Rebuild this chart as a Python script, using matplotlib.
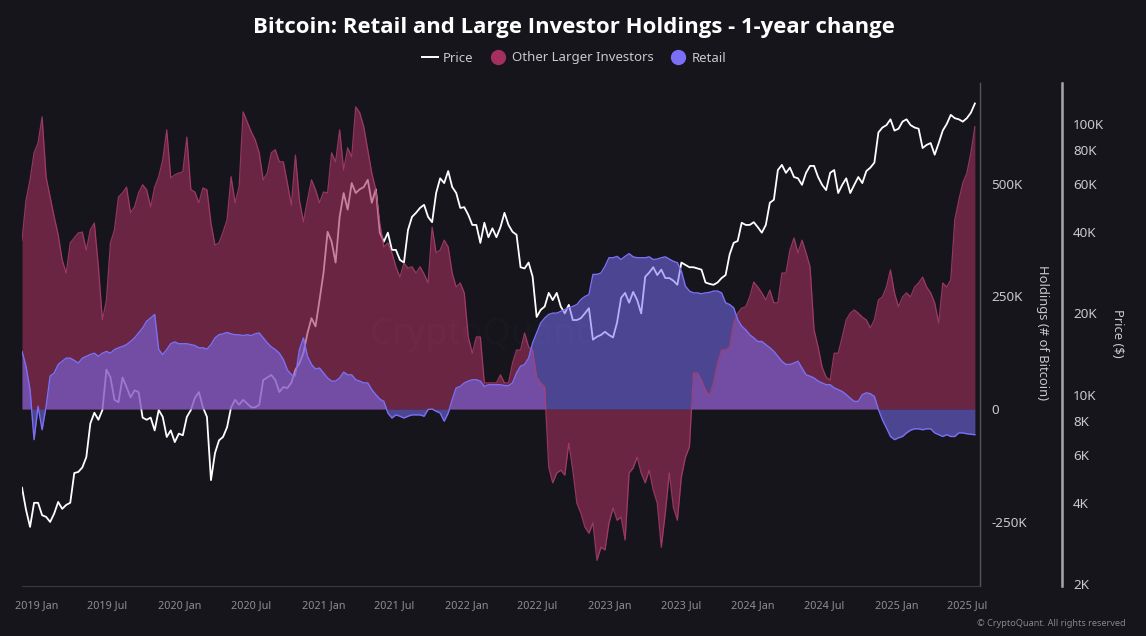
# -*- coding: utf-8 -*-
import pandas as pd
import matplotlib.pyplot as plt
from matplotlib.lines import Line2D

# values, one every ~10 days (thousands of BTC / thousands of USD)
other = [375,464,509,569,591,649,515,471,427,387,331,302,369,380,391,393,353,398,413,316,
         198,242,369,398,471,480,493,436,449,480,498,487,449,493,516,553,620,513,520,524,
         527,604,487,482,458,491,487,413,364,369,393,420,516,458,493,660,638,616,598,569,
         509,524,569,576,549,549,502,453,564,464,416,464,509,487,458,482,480,569,549,620,
         531,580,560,671,658,627,576,524,487,413,360,369,347,316,293,
         324,313,316,302,316,300,280,404,347,353,375,360,302,271,280,258,160,124,160,160,
         58,58,58,58,76,58,58,102,131,131,169,138,131,71,58,49,
         -129,-164,-142,-136,-147,-76,-136,-209,-231,-262,-276,-253,-336,-307,-313,-253,-220,-247,-240,-291,
         -142,-131,-107,-142,-164,-136,-180,-209,-307,-231,-142,-218,-247,-151,-107,-84,
         80,80,64,42,30,58,102,131,131,138,191,213,
         224,227,249,282,271,258,242,264,236,236,302,302,353,380,347,375,347,316,176,138,
         93,71,64,124,124,160,198,213,220,213,204,198,180,198,242,249,271,309,258,227,
         249,258,249,271,280,293,271,258,236,191,280,271,287,420,464,502,524,569,627]
retail = [128,95,43,-68,6,-46,6,73,80,99,106,113,113,108,102,113,117,121,124,117,
          124,128,124,132,136,139,143,150,158,169,180,195,202,210,132,121,132,145,149,145,
          145,145,143,141,136,136,133,143,158,165,167,170,167,165,165,163,165,163,167,169,
          158,147,138,132,124,110,87,76,73,132,158,117,99,89,91,80,69,62,62,69,
          82,76,76,65,62,58,58,43,32,22,17,-9,-20,-13,-16,
          -20,-16,-13,-13,-13,-16,-1,0,-5,-9,-27,-9,21,47,50,58,62,65,65,62,
          50,54,54,54,54,52,52,58,80,95,99,113,147,169,191,202,
          210,213,213,217,221,225,228,232,243,250,254,299,299,302,317,336,336,339,332,339,
          345,338,336,336,336,338,332,333,336,338,333,328,325,306,273,262,
          258,258,256,258,259,262,262,258,236,232,225,199,
          184,176,165,158,150,150,143,136,128,117,106,99,99,102,106,91,76,73,69,62,
          58,54,54,47,43,39,32,24,17,17,32,36,34,28,-1,-24,-42,-61,-68,-64,
          -61,-53,-47,-44,-44,-46,-44,-44,-53,-57,-61,-57,-61,-61,-53,-53,-55,-56,-57]
price = [4.55,3.77,3.26,4.0,4.0,3.6,3.55,3.4,3.65,4.03,3.8,3.93,4.0,5.15,5.2,5.4,5.9,7.85,8.6,8.1,
         8.8,12.4,11.6,9.6,9.4,11.6,10.7,9.8,10.4,10.25,8.25,8.1,8.25,7.4,8.8,8.3,7.0,7.4,6.7,7.2,
         7.1,8.3,8.8,9.75,10.25,9.0,8.3,4.85,6.1,6.8,7.0,7.6,9.0,9.6,9.2,9.6,9.3,9.0,9.0,9.2,
         11.35,11.6,11.85,11.35,10.25,10.7,10.6,11.1,12.4,13.1,14.3,16.9,19.2,17.9,22.4,28.3,40,36.8,30.8,45.4,
         55.6,48.3,60.5,55.6,57.4,58.5,62.2,51.2,57.4,39.7,36.8,39.7,34.3,34.3,31.5,
         30.8,40.6,45.4,47,49,50.3,45.4,43.4,55.6,63,60.5,67,58.5,55.6,49,49.3,46.2,42.4,42.4,36.4,
         43.2,38.2,41.2,38.2,41.6,47,42.4,40,39,29.6,29.3,30.8,27.3,19.4,20.6,21.2,
         23.8,22.4,23.8,21.2,20,21.5,18.9,18.9,19.2,20,20.9,16,16.4,16.65,17.1,16.65,16.3,18.5,22.8,23.8,
         21.9,24,22.4,20,27.3,28.3,29.6,27.7,29,27,27,26.4,25.5,30.8,30.2,29.6,
         29.6,29.3,29,26,25.7,25.5,26,27,27.7,33,36.4,37,
         43.2,42.4,42.4,43.4,41.6,39.7,42.4,51.2,52.5,67.6,70.6,66,69,63.7,63,59.6,66,70,70,63.7,
         59.6,57,66,67.6,55.6,59.6,63,55.6,59.6,63.7,60.5,67,69,72,93,97,99,104,94.5,96,
         102,104,99,97,96,81.5,83.7,85,77,85,94.5,100,108,105,104,102,105,110,119]
holding_ticks = [-250, 0, 250, 500]
holding_labels = ['-250K', '0', '250K', '500K']
price_ticks = [2, 4, 6, 8, 10, 20, 40, 60, 80, 100]
price_labels = ['2K', '4K', '6K', '8K', '10K', '20K', '40K', '60K', '80K', '100K']
date_ticks = ['2019-01-01', '2019-07-01', '2020-01-01', '2020-07-01', '2021-01-01', '2021-07-01', '2022-01-01',
              '2022-07-01', '2023-01-01', '2023-07-01', '2024-01-01', '2024-07-01', '2025-01-01', '2025-07-01']
date_labels = ['2019 Jan', '2019 Jul', '2020 Jan', '2020 Jul', '2021 Jan', '2021 Jul', '2022 Jan',
               '2022 Jul', '2023 Jan', '2023 Jul', '2024 Jan', '2024 Jul', '2025 Jan', '2025 Jul']

dates = pd.date_range('2018-11-25', '2025-07-20', periods=len(other))

BG = '#15151b'
TXT = '#c9c9cc'
RED = '#a3305f'
BLUE = '#7b6ff5'

plt.rcParams['font.family'] = ['Noto Sans', 'DejaVu Sans']

fig = plt.figure(figsize=(11.46, 6.36), dpi=100, facecolor=BG)
# axes box in figure fractions, holdings axis at the right side
ax = fig.add_axes([22 / 1146, 1 - 586 / 636, (980 - 22) / 1146, (586 - 83) / 636], facecolor='none')
ax2 = ax.twinx()
ax.set_zorder(2)
ax2.set_zorder(1)
ax2.patch.set_visible(True)
ax2.patch.set_facecolor(BG)

ax2.plot(dates, price, color='white', lw=1.3)
ax2.set_yscale('log')
ax2.set_ylim(1.973, 141.6)
ax2.set_yticks(price_ticks)
ax2.set_yticklabels(price_labels)
ax2.minorticks_off()

ax.fill_between(dates, other, 0, color=RED, alpha=0.6, lw=0)
ax.plot(dates, other, color='#b04070', lw=0.9, alpha=0.8)
ax.fill_between(dates, retail, 0, color=BLUE, alpha=0.55, lw=0)
ax.plot(dates, retail, color=BLUE, lw=1.0)
ax.set_ylim(-393, 724)
ax.set_yticks(holding_ticks)
ax.set_yticklabels(holding_labels)
ax.yaxis.tick_right()
ax.set_xlim(pd.Timestamp('2018-11-25'), pd.Timestamp('2025-08-02'))
ax.set_xticks(pd.to_datetime(date_ticks))
ax.set_xticklabels(date_labels)

fig.text(480 / 1146, 1 - 335 / 636, 'CryptoQuant', color='white', alpha=0.015, fontsize=26,
         ha='center', va='center')

for a in (ax, ax2):
    for s in ('top', 'left'):
        a.spines[s].set_visible(False)
ax.spines['right'].set_color('#55555a')
ax.spines['right'].set_linewidth(1.0)
ax.spines['bottom'].set_color('#3a3a40')
ax.spines['bottom'].set_linewidth(0.8)
ax2.spines['bottom'].set_visible(False)
ax2.spines['right'].set_position(('outward', 59))
ax2.spines['right'].set_color('#a8a8ac')
ax2.spines['right'].set_linewidth(1.8)

ax.tick_params(axis='x', length=0, pad=10, labelsize=7.8, labelcolor='#8d8d92')
ax.tick_params(axis='y', length=0, pad=8, labelsize=9.7, labelcolor=TXT)
ax2.tick_params(axis='y', length=0, pad=8, labelsize=9.7, labelcolor=TXT)

fig.text(1043 / 1146, 1 - 333 / 636, 'Holdings (# of Bitcoin)', rotation=270, color=TXT, fontsize=9.3,
         ha='center', va='center')
fig.text(1118 / 1146, 1 - 333 / 636, 'Price ($)', rotation=270, color=TXT, fontsize=9.3,
         ha='center', va='center')
fig.text(574 / 1146, 1 - 27.5 / 636, 'Bitcoin: Retail and Large Investor Holdings - 1-year change', color='white',
         fontsize=15.9, fontweight='bold', family=['Open Sans', 'DejaVu Sans'], ha='center', va='center')
fig.text(1126 / 1146, 1 - 624 / 636, '© CryptoQuant. All rights reserved', color='#85858a', fontsize=6.6,
         ha='right', va='center')

handles = [Line2D([], [], color='white', lw=1.4),
           Line2D([], [], ls='', marker='o', ms=10, color=RED),
           Line2D([], [], ls='', marker='o', ms=10, color=BLUE)]
fig.legend(handles, ['Price', 'Other Larger Investors', 'Retail'], loc='center', ncol=3,
           bbox_to_anchor=(574 / 1146, 1 - 58 / 636), frameon=False, labelcolor=TXT, fontsize=9.5,
           handlelength=1.2, handletextpad=0.4, columnspacing=1.3)

plt.savefig('out.png', dpi=100, facecolor=BG)
